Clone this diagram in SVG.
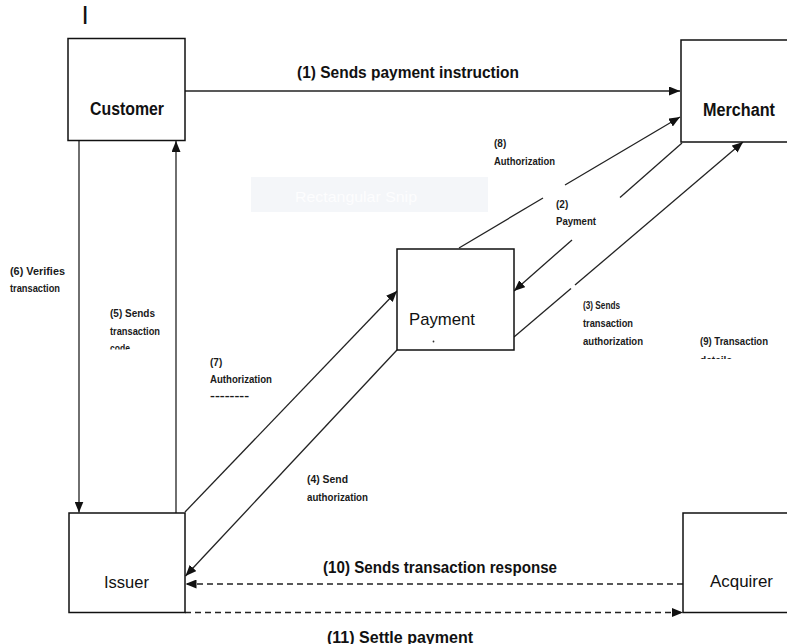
<svg xmlns="http://www.w3.org/2000/svg" width="787" height="644" viewBox="0 0 787 644">
<style>
.box{fill:#fff;stroke:#111;stroke-width:1.5}
.ln{fill:none;stroke:#222;stroke-width:1.3}
.dash{fill:none;stroke:#222;stroke-width:1.4;stroke-dasharray:6 4}
.node{font-family:"Liberation Sans",Arial,sans-serif;fill:#111}
.big{font-family:"Liberation Sans",Arial,sans-serif;font-size:16px;font-weight:bold;fill:#111}
.sm{font-family:"Liberation Sans",Arial,sans-serif;font-size:10px;font-weight:bold;fill:#1a1a1a}
</style>
<defs>
<marker id="ah" markerUnits="userSpaceOnUse" markerWidth="11" markerHeight="9" refX="11" refY="4.5" orient="auto">
<path d="M0,0 L11,4.5 L0,9 z" fill="#111"/>
</marker>
<clipPath id="c1"><rect x="0" y="0" width="787" height="80.5"/></clipPath>
<clipPath id="c5"><rect x="0" y="0" width="787" height="349.5"/></clipPath>
<clipPath id="c9"><rect x="0" y="0" width="787" height="359"/></clipPath>
</defs>
<rect width="787" height="644" fill="#fff"/>
<text x="81.5" y="24" font-family="Liberation Sans, Arial, sans-serif" font-size="26" fill="#111">I</text>
<g id="snip">
<rect x="251" y="177" width="237" height="35" fill="#f4f6f9"/>
<text x="295" y="202" font-family="Liberation Sans, Arial, sans-serif" font-size="15" fill="#fdfdfe" textLength="122" lengthAdjust="spacingAndGlyphs">Rectangular Snip</text>
</g>
<g id="connectors">
<path class="ln" d="M185,91 H680" marker-end="url(#ah)"/>
<path class="ln" d="M79,141 V512.5" marker-end="url(#ah)"/>
<path class="ln" d="M176,513 V141" marker-end="url(#ah)"/>
<path class="ln" d="M185,512 L397,291" marker-end="url(#ah)"/>
<path class="ln" d="M397,350 L185.5,576" marker-end="url(#ah)"/>
<path class="ln" d="M459,248 L543,198"/>
<path class="ln" d="M565,185 L680,117" marker-end="url(#ah)"/>
<path class="ln" d="M682,143 L620,197.6"/>
<path class="ln" d="M572,239.9 L514,291" marker-end="url(#ah)"/>
<path class="ln" d="M514,337 L571,288.5"/>
<path class="ln" d="M575,285.1 L743,142" marker-end="url(#ah)"/>
<path class="dash" d="M683,584 H185.5" marker-end="url(#ah)"/>
<path class="dash" d="M185,612.5 H683" marker-end="url(#ah)"/>
</g>
<g id="labels">
<text class="big" x="297" y="78" clip-path="url(#c1)" textLength="222" lengthAdjust="spacingAndGlyphs">(1)  Sends payment instruction</text>
<text class="big" x="323" y="573" textLength="234" lengthAdjust="spacingAndGlyphs">(10)  Sends transaction response</text>
<text class="big" x="327" y="643" textLength="146" lengthAdjust="spacingAndGlyphs">(11)  Settle payment</text>
<text class="sm" x="10" y="275" textLength="55" lengthAdjust="spacingAndGlyphs">(6)  Verifies</text>
<text class="sm" x="10" y="292" textLength="50" lengthAdjust="spacingAndGlyphs">transaction</text>
<text class="sm" x="110" y="317" textLength="45" lengthAdjust="spacingAndGlyphs">(5)  Sends</text>
<text class="sm" x="110" y="335" textLength="50" lengthAdjust="spacingAndGlyphs">transaction</text>
<text class="sm" x="110" y="352" clip-path="url(#c5)" textLength="20" lengthAdjust="spacingAndGlyphs">code</text>
<text class="sm" x="210" y="366">(7)</text>
<text class="sm" x="210" y="383" textLength="62" lengthAdjust="spacingAndGlyphs">Authorization</text>
<text class="sm" x="210" y="399" textLength="39" lengthAdjust="spacingAndGlyphs">--------</text>
<text class="sm" x="307" y="483" textLength="41" lengthAdjust="spacingAndGlyphs">(4)  Send</text>
<text class="sm" x="307" y="501" textLength="61" lengthAdjust="spacingAndGlyphs">authorization</text>
<text class="sm" x="494" y="147">(8)</text>
<text class="sm" x="494" y="165" textLength="61" lengthAdjust="spacingAndGlyphs">Authorization</text>
<text class="sm" x="556" y="208">(2)</text>
<text class="sm" x="556" y="225" textLength="40" lengthAdjust="spacingAndGlyphs">Payment</text>
<text class="sm" x="583" y="309" textLength="37" lengthAdjust="spacingAndGlyphs">(3)  Sends</text>
<text class="sm" x="583" y="327" textLength="50" lengthAdjust="spacingAndGlyphs">transaction</text>
<text class="sm" x="583" y="345" textLength="60" lengthAdjust="spacingAndGlyphs">authorization</text>
<text class="sm" x="700" y="345" textLength="68" lengthAdjust="spacingAndGlyphs">(9) Transaction</text>
<text class="sm" x="700" y="364" clip-path="url(#c9)" textLength="32" lengthAdjust="spacingAndGlyphs">details</text>
</g>
<g id="customer">
<rect class="box" x="68" y="38.5" width="117" height="102"/>
<text class="node" x="90" y="115" font-size="18" font-weight="bold" textLength="74" lengthAdjust="spacingAndGlyphs">Customer</text>
</g>
<g id="merchant">
<rect class="box" x="681" y="40" width="130" height="102"/>
<text class="node" x="703" y="116" font-size="18" font-weight="bold" textLength="72" lengthAdjust="spacingAndGlyphs">Merchant</text>
</g>
<g id="payment">
<rect class="box" x="397" y="249" width="117" height="101"/>
<text class="node" x="409" y="325" font-size="17" textLength="66" lengthAdjust="spacingAndGlyphs">Payment</text>
<circle cx="433.5" cy="341.5" r="0.9" fill="#333"/>
</g>
<g id="issuer">
<rect class="box" x="69" y="513" width="116" height="99.5"/>
<text class="node" x="104" y="588" font-size="17" textLength="45" lengthAdjust="spacingAndGlyphs">Issuer</text>
</g>
<g id="acquirer">
<rect class="box" x="683" y="513" width="130" height="99.5"/>
<text class="node" x="710" y="587" font-size="17" textLength="63" lengthAdjust="spacingAndGlyphs">Acquirer</text>
</g>
</svg>
